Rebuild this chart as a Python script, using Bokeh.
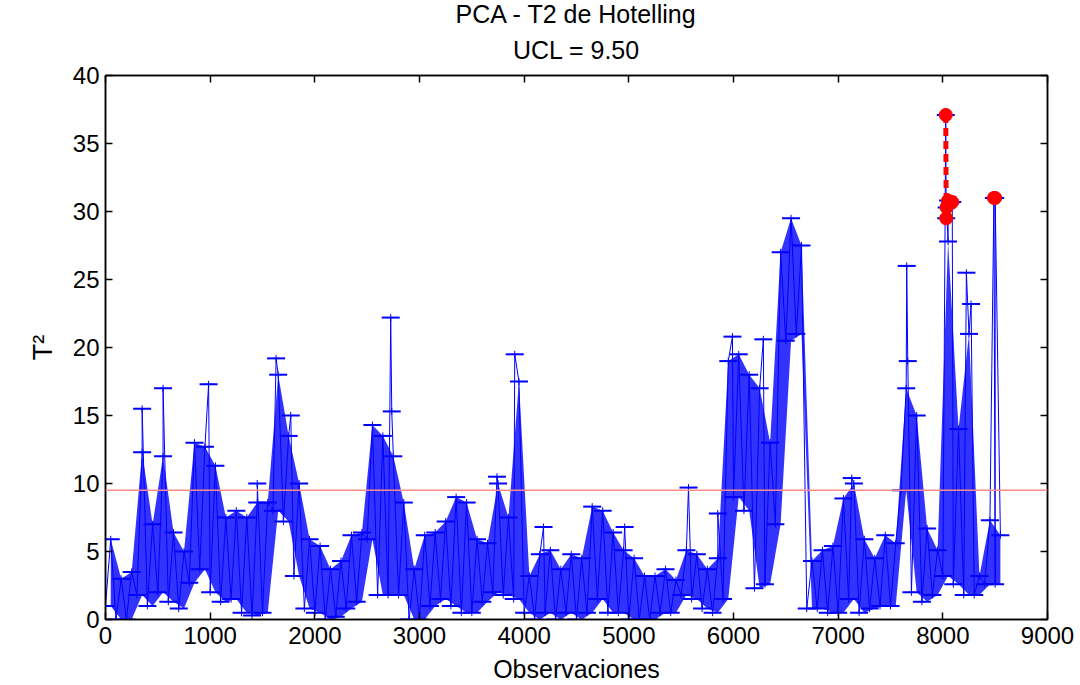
from bokeh.plotting import figure
from bokeh.models import Range1d, LinearAxis, FixedTicker, Span, Title
from bokeh.embed import file_html
from bokeh.resources import INLINE

bin_start = list(range(0, 8600, 100))
t2_low = [1.0, 0.0, 0.0, 1.8, 1.0, 2.0, 1.3, 0.8, 2.7, 3.7,
          2.0, 1.3, 1.5, 0.5, 0.3, 0.5, 8.0, 7.2, 3.2, 0.8,
          0.5, 0.0, 0.2, 0.8, 1.3, 5.9, 1.8, 1.8, 1.8, 0.0,
          0.0, 1.0, 1.5, 1.0, 0.5, 0.5, 1.3, 2.0, 1.8, 1.5,
          0.5, 0.0, 0.5, 0.0, 0.5, 0.0, 0.5, 1.5, 0.5, 0.5,
          0.0, 0.0, 0.0, 0.5, 0.5, 1.8, 1.5, 0.8, 0.5, 1.5,
          9.0, 8.0, 2.3, 2.6, 7.0, 20.5, 21.0, 0.8, 0.8, 0.5,
          0.5, 1.5, 0.5, 0.8, 1.0, 1.0, 9.5, 2.0, 1.3, 1.8,
          3.2, 2.6, 1.8, 1.8, 2.6, 2.6]
t2_high = [5.9, 3.0, 3.5, 12.3, 7.0, 12.0, 6.4, 5.0, 13.0, 12.7,
           11.3, 7.5, 8.0, 7.5, 8.6, 8.6, 18.0, 13.5, 10.0, 5.9,
           5.4, 3.7, 4.3, 6.2, 6.4, 14.3, 13.5, 12.0, 8.6, 3.7,
           6.2, 6.4, 7.2, 9.0, 8.6, 5.9, 5.6, 10.0, 7.5, 17.5,
           3.2, 4.8, 5.1, 3.7, 4.8, 4.5, 8.3, 8.0, 6.4, 5.1,
           4.5, 3.2, 3.2, 3.7, 2.9, 5.1, 4.8, 3.7, 4.5, 19.0,
           19.5, 18.0, 17.0, 13.0, 27.0, 29.5, 27.5, 4.3, 5.1, 5.4,
           8.9, 10.0, 5.9, 4.5, 6.2, 5.6, 17.0, 15.0, 6.7, 5.1,
           27.8, 14.0, 21.0, 3.2, 7.3, 6.2]

spike_obs = [350, 550, 985, 1450, 1630, 1770, 2725, 2735, 3740, 3910,
             4185, 4960, 5570, 5850, 5990, 6285, 7130, 7655, 7665, 8225, 8270]
spike_t2 = [15.5, 17.0, 17.3, 10.0, 19.2, 15.0, 22.2, 15.3, 10.5, 19.5,
            6.8, 6.8, 9.7, 7.8, 20.8, 20.6, 10.4, 26.0, 19.0, 25.5, 23.2]

alarm_obs = [8028, 8032, 8036, 8050, 8070, 8090]
alarm_t2 = [37.1, 29.5, 30.3, 30.8, 30.6, 30.7]
alarm2_obs = [8488, 8500]
alarm2_t2 = [31.0, 31.0]

ucl = 9.50
x_ticks = [0, 1000, 2000, 3000, 4000, 5000, 6000, 7000, 8000, 9000]
y_ticks = [0, 5, 10, 15, 20, 25, 30, 35, 40]

# ---- build blue series (ordered by observation) ----
pts = []
for s, lo, hi in zip(bin_start, t2_low, t2_high):
    pts.append((s, lo))
    pts.append((s + 50, hi))
for o, v in zip(spike_obs, spike_t2):
    pts.append((o, v))
for o, v in zip(alarm_obs + alarm2_obs, alarm_t2 + alarm2_t2):
    pts.append((o, v))
pts.sort(key=lambda t: t[0])
xs = [q[0] for q in pts]
ys = [q[1] for q in pts]
bin_mid = [s + 50 for s in bin_start]

FONT = "Liberation Sans"
BLUE = "#0000ff"

p = figure(width=1080, height=685, output_backend="svg", toolbar_location=None,
           title=None, x_range=Range1d(0, 9000), y_range=Range1d(0, 40),
           min_border_left=105, min_border_right=33, min_border_top=75,
           min_border_bottom=64)

p.grid.visible = False
p.outline_line_color = "black"
p.outline_line_width = 1.5

for ax in (p.xaxis[0], p.yaxis[0]):
    ax.major_label_text_font = FONT
    ax.major_label_text_font_size = "24px"
    ax.major_label_text_color = "black"
    ax.axis_line_width = 1.5
    ax.major_tick_in = 7
    ax.major_tick_out = 0
    ax.minor_tick_in = 0
    ax.minor_tick_out = 0
    ax.major_tick_line_width = 1.5
    ax.axis_label_text_font = FONT
    ax.axis_label_text_font_style = "normal"
    ax.axis_label_text_font_size = "25px"
    ax.axis_label_text_color = "black"
p.xaxis[0].ticker = FixedTicker(ticks=x_ticks)
p.yaxis[0].ticker = FixedTicker(ticks=y_ticks)
p.xaxis[0].axis_label = "Observaciones"
p.yaxis[0].axis_label = "T²"
p.yaxis[0].axis_label_text_font_size = "27px"
p.xaxis[0].major_label_standoff = 7
p.yaxis[0].major_label_standoff = 6
p.xaxis[0].axis_label_standoff = 8
p.yaxis[0].axis_label_standoff = 12

top_ax = LinearAxis(ticker=FixedTicker(ticks=x_ticks), major_label_text_font_size="0px",
                    major_tick_in=7, major_tick_out=0, minor_tick_in=0, minor_tick_out=0,
                    axis_line_width=1.5, major_tick_line_width=1.5, major_label_standoff=0)
right_ax = LinearAxis(ticker=FixedTicker(ticks=y_ticks), major_label_text_font_size="0px",
                      major_tick_in=7, major_tick_out=0, minor_tick_in=0, minor_tick_out=0,
                      axis_line_width=1.5, major_tick_line_width=1.5, major_label_standoff=0)
p.add_layout(top_ax, "above")
p.add_layout(right_ax, "right")
p.add_layout(Title(text="UCL = 9.50", align="center", text_font=FONT, text_color="black",
                   text_font_size="25px", text_font_style="normal", standoff=24), "above")
p.add_layout(Title(text="PCA - T2 de Hotelling", align="center", text_font=FONT, text_color="black",
                   text_font_size="25px", text_font_style="normal", standoff=-13), "above")

# blue T2 series: dense band of the observations, then the trace with '+' markers
p.varea(x=bin_mid, y1=t2_low, y2=t2_high, fill_color=BLUE, fill_alpha=0.8)
p.line(xs, ys, line_color=BLUE, line_width=1)
p.scatter(xs, ys, marker="dash", size=18, line_color=BLUE, line_width=2)
p.scatter(xs, ys, marker="cross", size=7, line_color=BLUE, line_width=1)

# UCL
p.add_layout(Span(location=ucl, dimension="width", line_color="#ff8c8c", line_width=1.5))

# alarms
p.line(alarm_obs, alarm_t2, line_color="#ff0000", line_width=5, line_dash="8 5")
p.scatter(alarm_obs, alarm_t2, marker="circle", size=13, fill_color="#ff0000", line_color="#ff0000")
p.scatter(alarm2_obs, alarm2_t2, marker="circle", size=13, fill_color="#ff0000", line_color="#ff0000")

open("out.html", "w").write(file_html(p, INLINE))
